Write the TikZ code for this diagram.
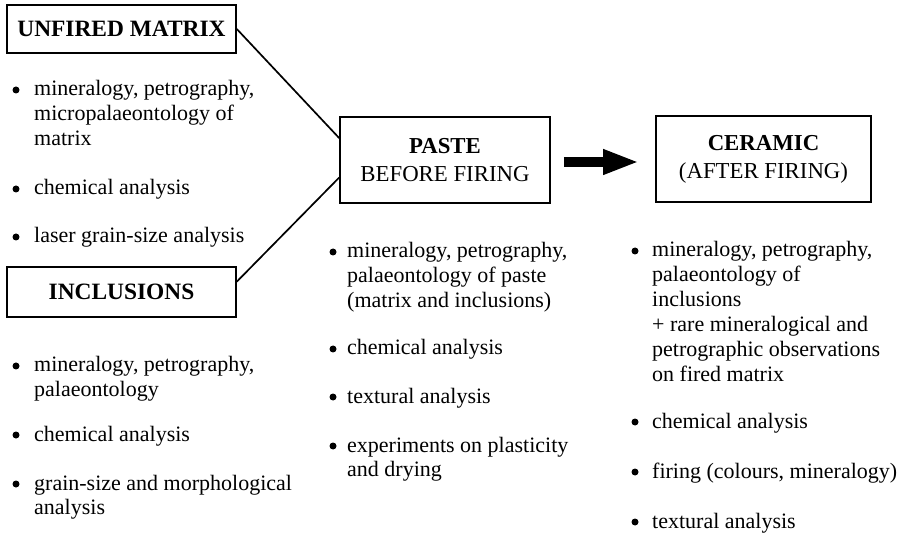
\documentclass[tikz,border=0pt]{standalone}
\usepackage{fontspec}
\setmainfont{Liberation Serif}
\usetikzlibrary{arrows.meta,calc}
\newcommand\bitem[5]{%
  \node[bul] (#1b) at ($(#4,#3)+(0,-6)$) {};
  \foreach \t [count=\i] in {#5} {%
    \node[txt] (#1-\i) at (#2,{#3+24.9*(\i-1)}) {\t};
  }%
}
\begin{document}
\begin{tikzpicture}[x=1pt,y=-1pt,
  box/.style={draw, line width=1.6pt, inner sep=0pt, align=center},
  ttl/.style={font=\fontsize{23.4}{28}\selectfont\bfseries},
  hd/.style={font=\fontsize{22.8}{28}\selectfont},
  txt/.style={anchor=base west, inner sep=0pt, font=\fontsize{22}{24.8}\selectfont},
  bul/.style={circle, fill, inner sep=0pt, minimum size=7pt},
  link/.style={line width=1.7pt}
]
\useasboundingbox (0,0) rectangle (902,534);

% boxes
\node[box, ttl, minimum width=229pt, minimum height=48pt] (um) at (121.5,29) {UNFIRED MATRIX};
\node[box, ttl, minimum width=229pt, minimum height=50pt] (inc) at (121.5,292) {INCLUSIONS};
\node[box, hd, minimum width=210pt, minimum height=86pt] (paste) at (445,160) {\textbf{PASTE}\\BEFORE FIRING};
\node[box, hd, minimum width=215pt, minimum height=86pt] (cer) at (763.5,159) {\textbf{CERAMIC}\\(AFTER FIRING)};

% connectors
\draw[link] (um.east) -- ($(paste.north west)!0.25!(paste.south west)$);
\draw[link] ($(inc.north east)!0.3!(inc.south east)$) -- ($(paste.north west)!0.7!(paste.south west)$);
\draw[line width=10pt, -{Triangle[length=36pt,width=23pt]}]
  ($(paste.east)+(13,2)$) -- ($(cer.west)+(-16,3)$);

% left column
\bitem{l1}{34}{96}{16}{{mineralogy, petrography,},{micropalaeontology of},{matrix}}
\bitem{l2}{34}{195}{16}{{chemical analysis}}
\bitem{l3}{34}{243}{16}{{laser grain-size analysis}}
\bitem{l4}{34}{372}{16}{{mineralogy, petrography,},{palaeontology}}
\bitem{l5}{34}{441}{16}{{chemical analysis}}
\bitem{l6}{34}{490}{16}{{grain-size and morphological},{analysis}}

% middle column
\bitem{m1}{347}{258}{333}{{mineralogy, petrography,},{palaeontology of paste},{(matrix and inclusions)}}
\bitem{m2}{347}{355}{333}{{chemical analysis}}
\bitem{m3}{347}{403}{333}{{textural analysis}}
\bitem{m4}{347}{452}{333}{{experiments on plasticity},{and drying}}

% right column
\bitem{r1}{652}{257}{635}{{mineralogy, petrography,},{palaeontology of},{inclusions},{+ rare mineralogical and},{petrographic observations},{on fired matrix}}
\bitem{r2}{652}{428}{635}{{chemical analysis}}
\bitem{r3}{652}{478}{635}{{firing (colours, mineralogy)}}
\bitem{r4}{652}{528}{635}{{textural analysis}}
\end{tikzpicture}
\end{document}
